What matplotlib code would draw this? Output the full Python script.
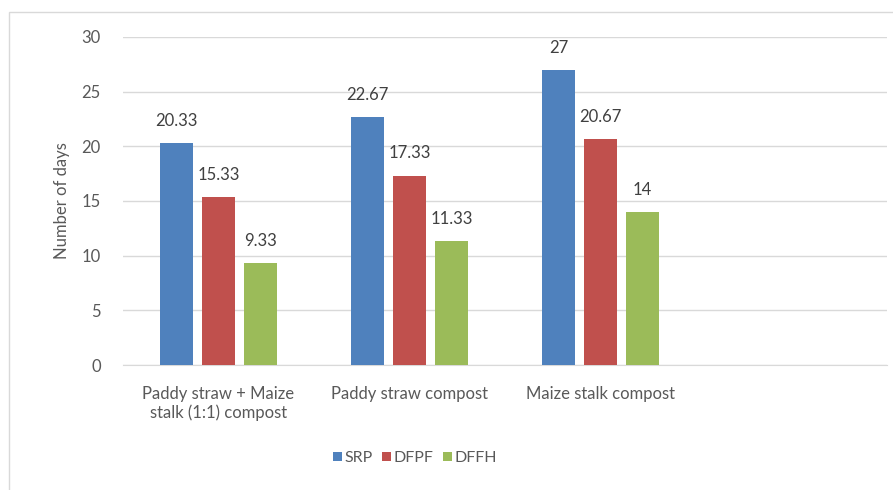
import numpy as np
import matplotlib.pyplot as plt
from matplotlib.patches import Rectangle

categories = ['Paddy straw + Maize\nstalk (1:1) compost', 'Paddy straw compost', 'Maize stalk compost', '']
series_names = ['SRP', 'DFPF', 'DFFH']
srp = [20.33, 22.67, 27]
dfpf = [15.33, 17.33, 20.67]
dffh = [9.33, 11.33, 14]
value_labels = [['20.33', '22.67', '27'], ['15.33', '17.33', '20.67'], ['9.33', '11.33', '14']]
colors = ['#4F81BD', '#C0504D', '#9BBB59']

plt.rcParams['font.family'] = ['Lato', 'DejaVu Sans']
txt = '#595959'

fig = plt.figure(figsize=(8.93, 4.90), dpi=100)
ax = fig.add_axes([0.1377, 0.2551, 0.9933 - 0.1377, 0.9245 - 0.2551])

# chart border
fig.patches.append(Rectangle((9 / 893, -0.1), 1.2, 1 - 12 / 490 + 0.1, transform=fig.transFigure,
                             fill=False, edgecolor='#d9d9d9', linewidth=1))

x = np.arange(len(categories))
w = 0.173
step = 0.22
for i, vals in enumerate([srp, dfpf, dffh]):
    pos = x[:3] + (i - 1) * step
    ax.bar(pos, vals, width=w, color=colors[i], label=series_names[i], zorder=3)
    for p, v, lab in zip(pos, vals, value_labels[i]):
        ax.text(p, v + 1.3, lab, ha='center', va='bottom', fontsize=12, color='#404040')

ax.set_xlim(-0.5, 3.5)
ax.set_ylim(0, 30)
ax.set_yticks(range(0, 31, 5))
ax.set_xticks(x)
ax.set_xticklabels(categories, fontsize=12, color=txt)
ax.tick_params(axis='both', length=0, labelcolor=txt, labelsize=12)
ax.tick_params(axis='x', pad=15)
ax.tick_params(axis='y', pad=16)
ax.grid(axis='y', color='#d9d9d9', linewidth=1, zorder=0)
for s in ['top', 'right', 'left']:
    ax.spines[s].set_visible(False)
ax.spines['bottom'].set_color('#d9d9d9')
ax.set_ylabel('Number of days', fontsize=12, color=txt, labelpad=8)

ax.legend(loc='center', bbox_to_anchor=(415 / 893, 1 - 458 / 490), bbox_transform=fig.transFigure,
          ncol=3, frameon=False, fontsize=11.5, handlelength=0.55, handleheight=0.55,
          handletextpad=0.15, columnspacing=0.6, labelcolor=txt)

plt.savefig('out.png', dpi=100)
